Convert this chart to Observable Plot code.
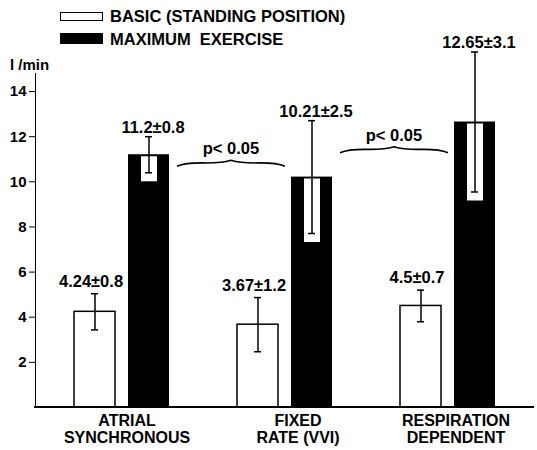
<!DOCTYPE html>
<html>
<head>
<meta charset="utf-8">
<script src="https://cdn.jsdelivr.net/npm/d3@7"></script>
<script src="https://cdn.jsdelivr.net/npm/@observablehq/plot@0.6"></script>
<style>
  body { margin: 0; background: white; }
  #wrap { position: relative; width: 537px; height: 450px; font-family: "Liberation Sans", Arial, Helvetica, sans-serif; font-weight: bold; color: black; }
  .lg-box { position: absolute; left: 60px; width: 43px; box-sizing: border-box; }
  .lg-text { position: absolute; left: 110px; font-size: 16.5px; line-height: 16px; white-space: pre; }
  #ylab { position: absolute; left: 10px; top: 57px; font-size: 15px; line-height: 15px; }
</style>
</head>
<body>
<div id="wrap"></div>
<script>
// ---- data ----
const groups = ["ATRIAL SYNCHRONOUS", "FIXED RATE (VVI)", "RESPIRATION DEPENDENT"];
const groupLines = ["ATRIAL\nSYNCHRONOUS", "FIXED\nRATE (VVI)", "RESPIRATION\nDEPENDENT"];
const conditions = ["basic", "max"];
const legendLabels = ["BASIC (STANDING POSITION)", "MAXIMUM  EXERCISE"];
const basicMean = [4.24, 3.67, 4.5];
const basicSD = [0.8, 1.2, 0.7];
const maxMean = [11.2, 10.21, 12.65];
const maxSD = [0.8, 2.5, 3.1];
const yTicks = [2, 4, 6, 8, 10, 12, 14];
const yUnit = "l /min";
const comparisons = [
  {from: 0, to: 1, y: 10.8, label: "p< 0.05"},
  {from: 1, to: 2, y: 11.4, label: "p< 0.05"}
];

const rows = groups.flatMap((g, i) => [
  {group: g, cond: "basic", mean: basicMean[i], sd: basicSD[i]},
  {group: g, cond: "max", mean: maxMean[i], sd: maxSD[i]}
]);
const basicRows = rows.filter(d => d.cond === "basic");
const maxRows = rows.filter(d => d.cond === "max");
const labelDx = [10, 18, 13];
const FONT = '"Liberation Sans", Arial, Helvetica, sans-serif';
const valueText = d => `${d.mean}±${d.sd}`;

const plot = Plot.plot({
  width: 537,
  height: 450,
  marginTop: 73,
  marginBottom: 43,
  marginLeft: 34,
  marginRight: 12,
  style: {fontFamily: FONT, fontSize: "15px", fontWeight: "bold", color: "black", background: "white"},
  fx: {domain: groups, paddingInner: 0, paddingOuter: 0, axis: null, label: null},
  x: {domain: conditions, paddingInner: 0.236, paddingOuter: 0.6045, align: 0.579, axis: null},
  y: {domain: [0, 14.8], ticks: yTicks, tickSize: 6, tickPadding: 3, line: true, label: null, tickFormat: d => String(d)},
  marks: [
    Plot.barY(basicRows, {fx: "group", x: "cond", y: "mean", fill: "white", stroke: "black", strokeWidth: 1.5, inset: 0}),
    Plot.barY(maxRows, {fx: "group", x: "cond", y: "mean", fill: "black", inset: 0}),
    Plot.ruleX(maxRows, {fx: "group", x: "cond", y1: "mean", y2: d => d.mean - d.sd, stroke: "white", strokeWidth: 16, insetTop: 2, insetBottom: -9}),
    Plot.ruleX(rows, {fx: "group", x: "cond", y1: d => d.mean + d.sd, y2: d => d.mean - d.sd, stroke: "black", strokeWidth: 1.5}),
    Plot.tickY(rows, {fx: "group", x: "cond", y: d => d.mean + d.sd, stroke: "black", strokeWidth: 1.5, insetLeft: 17, insetRight: 17}),
    Plot.tickY(rows, {fx: "group", x: "cond", y: d => d.mean - d.sd, stroke: "black", strokeWidth: 1.5, insetLeft: 17, insetRight: 17}),
    Plot.text(basicRows, {fx: "group", x: "cond", y: d => d.mean + d.sd, text: valueText, dx: -4, dy: -7, lineAnchor: "bottom", fontSize: 16.5, fontWeight: "bold", fill: "black"}),
    Plot.text(maxRows, {fx: "group", x: "cond", y: d => d.mean + d.sd, text: valueText, dx: 4, dy: -4, lineAnchor: "bottom", fontSize: 16.5, fontWeight: "bold", fill: "black"}),
    ...groups.map((g, i) => Plot.text([g], {fx: d => d, text: () => groupLines[i], frameAnchor: "bottom", lineAnchor: "top", dy: 7, dx: labelDx[i], fontSize: 16, fontWeight: "bold", fill: "black", lineHeight: 1.05}))
  ]
});

const wrap = document.getElementById("wrap");
wrap.appendChild(plot);

// baseline and significance braces, positioned with the plot's own scales
const fxS = plot.scale("fx"), xS = plot.scale("x"), yS = plot.scale("y");
const bx = (gi, c) => fxS.apply(groups[gi]) + xS.apply(c) - xS.range[0];
const bw = xS.bandwidth;
const svg = d3.select(plot);
const y0 = yS.apply(0);
svg.append("line").attr("x1", 34).attr("x2", 534).attr("y1", y0).attr("y2", y0)
  .attr("stroke", "black").attr("stroke-width", 2);
const gB = svg.append("g");
comparisons.forEach(c => {
  const x0 = bx(c.from, "max") + bw + 8;
  const x1 = bx(c.to, "max") - 6;
  const yb = yS.apply(c.y);
  const xm = (x0 + x1) / 2, w = (x1 - x0) / 2;
  const d = `M${x0},${yb + 3} C${x0 + 0.3 * w},${yb - 4} ${xm - 0.35 * w},${yb + 3} ${xm},${yb - 3}` +
            ` C${xm + 0.35 * w},${yb + 3} ${x1 - 0.3 * w},${yb - 4} ${x1},${yb + 3}`;
  gB.append("path").attr("d", d).attr("fill", "none").attr("stroke", "black").attr("stroke-width", 1.6);
  gB.append("text").attr("x", xm).attr("y", yb - 9).attr("text-anchor", "middle")
    .attr("font-size", 16.5).attr("font-weight", "bold").attr("font-family", FONT).attr("fill", "black")
    .text(c.label);
});

// legend + unit label (HTML, over the top margin)
const lg1 = document.createElement("div");
lg1.className = "lg-box"; lg1.style.top = "12px"; lg1.style.height = "9px"; lg1.style.border = "1.5px solid black"; lg1.style.background = "white";
const lg2 = document.createElement("div");
lg2.className = "lg-box"; lg2.style.top = "33px"; lg2.style.height = "11px"; lg2.style.background = "black";
const t1 = document.createElement("div");
t1.className = "lg-text"; t1.style.top = "8px"; t1.textContent = legendLabels[0];
const t2 = document.createElement("div");
t2.className = "lg-text"; t2.style.top = "31px"; t2.textContent = legendLabels[1];
const yl = document.createElement("div");
yl.id = "ylab"; yl.textContent = yUnit;
[lg1, lg2, t1, t2, yl].forEach(e => wrap.appendChild(e));
</script>
</body>
</html>
